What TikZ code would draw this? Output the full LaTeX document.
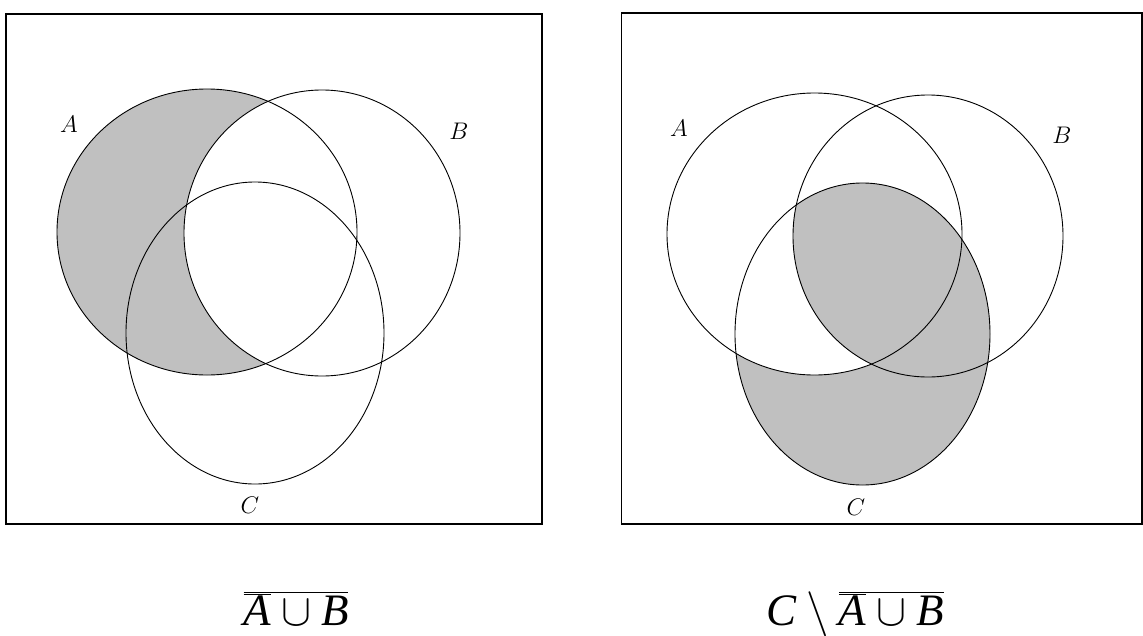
\RequirePackage{fix-cm}
\documentclass[tikz,border=0pt]{standalone}
\usepackage[no-math]{fontspec}
\setmainfont{Liberation Serif}
\definecolor{venngray}{RGB}{192,192,192}
\tikzset{
  venn/.style={draw=black, line width=0.9pt},
  frame/.style={draw=black, line width=1.3pt},
  setlabel/.style={font=\fontsize{24}{26}\selectfont, inner sep=0pt},
  formula/.style={font=\fontsize{45}{50}\selectfont, anchor=base, inner sep=0pt, text depth=0pt}
}
\begin{document}
\begin{tikzpicture}[x=1pt,y=-1pt]
\useasboundingbox (0,0) rectangle (1143,635);
% ---------- left panel ----------
\coordinate (lA) at (207,232);
\coordinate (lB) at (322,233);
\coordinate (lC) at (255,333);
\fill[venngray] (lA) ellipse[x radius=150pt, y radius=143pt];
\fill[white] (lB) ellipse[x radius=138pt, y radius=143pt];
\draw[venn] (lA) ellipse[x radius=150pt, y radius=143pt];
\draw[venn] (lB) ellipse[x radius=138pt, y radius=143pt];
\draw[venn] (lC) ellipse[x radius=129pt, y radius=151pt];
\draw[frame] (6,14) rectangle (542,524);
\node[setlabel] (labA1) at (69,124) {$A$};
\node[setlabel] (labB1) at (459,131) {$B$};
\node[setlabel] (labC1) at (250,505) {$C$};
\node[formula] (f1) at (296,625) {$\overline{\overline{\mbox{\itshape A}}\cup\mbox{\itshape B}}$};
% ---------- right panel ----------
\coordinate (rA) at (814.5,234);
\coordinate (rB) at (928,236);
\coordinate (rC) at (862.5,334);
\fill[venngray] (rC) ellipse[x radius=127.5pt, y radius=151pt];
\begin{scope}
  \clip (rC) ellipse[x radius=127.5pt, y radius=151pt];
  \fill[white] (rA) ellipse[x radius=147.5pt, y radius=141pt];
  \fill[venngray] (rB) ellipse[x radius=135pt, y radius=141pt];
\end{scope}
\draw[venn] (rA) ellipse[x radius=147.5pt, y radius=141pt];
\draw[venn] (rB) ellipse[x radius=135pt, y radius=141pt];
\draw[venn] (rC) ellipse[x radius=127.5pt, y radius=151pt];
\draw[frame] (621.5,13) rectangle (1142,524);
\node[setlabel] (labA2) at (679,128) {$A$};
\node[setlabel] (labB2) at (1062,135) {$B$};
\node[setlabel] (labC2) at (856,507) {$C$};
\node[formula] (f2) at (855,625) {$\mbox{\itshape C}\setminus\overline{\overline{\mbox{\itshape A}}\cup\mbox{\itshape B}}$};
\end{tikzpicture}
\end{document}
